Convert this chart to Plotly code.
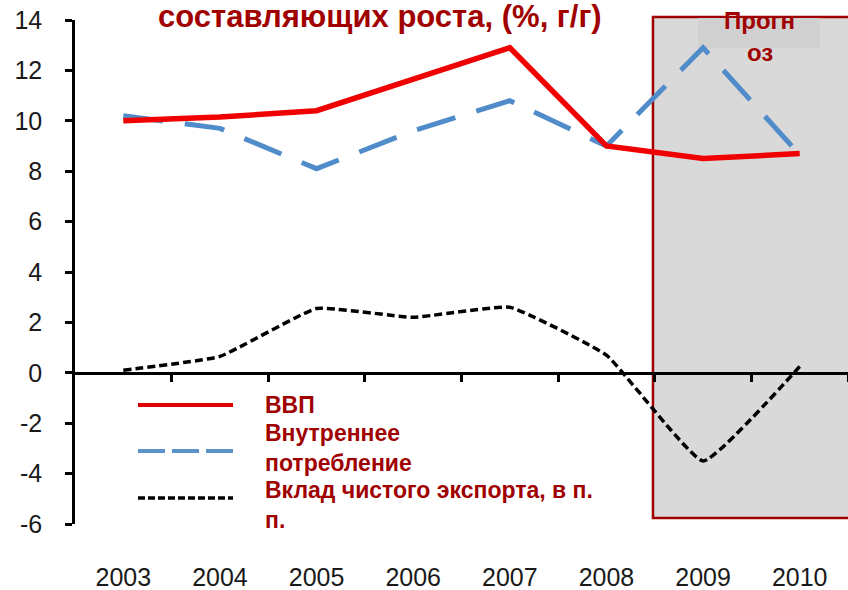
import plotly.graph_objects as go

years = [2003, 2004, 2005, 2006, 2007, 2008, 2009, 2010]
gdp = [10.0, 10.15, 10.4, 11.65, 12.9, 9.0, 8.5, 8.7]
domestic = [10.2, 9.7, 8.1, 9.6, 10.8, 9.0, 12.9, 8.65]
net_export = [0.1, 0.65, 2.55, 2.2, 2.6, 0.7, -3.5, 0.25]
y_ticks = [-6, -4, -2, 0, 2, 4, 6, 8, 10, 12, 14]
y_tick_text = ["-6", "-4", "-2", "0", "2", "4", "6", "8", "10", "12", "14"]
boundaries = [2003.5, 2004.5, 2005.5, 2006.5, 2007.5, 2008.5, 2009.5, 2010.5]

DARKRED = "#a00000"
FONT = "Arial, Liberation Sans, sans-serif"

fig = go.Figure()
fig.add_trace(go.Scatter(x=years, y=net_export, mode="lines",
                         line=dict(color="black", width=3.5, dash="8px,4px", shape="spline", smoothing=0.35),
                         showlegend=False, hoverinfo="skip"))
fig.add_trace(go.Scatter(x=years, y=domestic, mode="lines",
                         line=dict(color="#4f8cc9", width=5, dash="40px,22px"),
                         showlegend=False, hoverinfo="skip"))
fig.add_trace(go.Scatter(x=years, y=gdp, mode="lines",
                         line=dict(color="#f00000", width=5.5),
                         showlegend=False, hoverinfo="skip"))
# invisible trace to create the zero-line axis
fig.add_trace(go.Scatter(x=[years[0]], y=[0], xaxis="x2", mode="markers",
                         marker=dict(opacity=0), showlegend=False, hoverinfo="skip"))

shapes = []
# forecast box
shapes.append(dict(type="rect", xref="paper", yref="paper", x0=0.7477, x1=1.03, y0=0.0119, y1=1.006,
                   fillcolor="#d9d9d9", line=dict(color=DARKRED, width=2.5), layer="below"))
shapes.append(dict(type="rect", xref="paper", yref="paper", x0=0.806, x1=0.964, y0=0.944, y1=1.004,
                   fillcolor="#d0d0d0", line=dict(width=0), layer="below"))
# legend samples
shapes.append(dict(type="line", xref="paper", yref="paper", x0=0.0815, x1=0.2044, y0=0.236, y1=0.236,
                   line=dict(color="#e00000", width=4)))
shapes.append(dict(type="line", xref="paper", yref="paper", x0=0.0815, x1=0.2044, y0=0.145, y1=0.145,
                   line=dict(color="#5a94c8", width=4, dash="27px,7px")))
shapes.append(dict(type="line", xref="paper", yref="paper", x0=0.0815, x1=0.2044, y0=0.0516, y1=0.0516,
                   line=dict(color="black", width=3.5, dash="7px,3px")))

ann = []
ann.append(dict(text="<b>составляющих роста, (%, г/г)</b>", xref="paper", yref="paper", x=0.3946, y=(524 - 16) / 504,
                xanchor="center", yanchor="middle", showarrow=False,
                font=dict(family=FONT, size=31, color=DARKRED)))
ann.append(dict(text="<b>Прогн</b>", xref="paper", yref="paper", x=0.886, y=(524 - 20) / 504,
                xanchor="center", yanchor="middle", showarrow=False,
                font=dict(family=FONT, size=24, color=DARKRED)))
ann.append(dict(text="<b>оз</b>", xref="paper", yref="paper", x=0.886, y=(524 - 52) / 504,
                xanchor="center", yanchor="middle", showarrow=False,
                font=dict(family=FONT, size=24, color=DARKRED)))
leg_texts = [("<b>ВВП</b>", 405), ("<b>Внутреннее<br>потребление</b>", 448),
             ("<b>Вклад чистого экспорта, в п.<br>п.</b>", 505)]
for t, py in leg_texts:
    ann.append(dict(text=t, xref="paper", yref="paper", x=(263 - 75) / 773, y=(524 - py) / 504,
                    xanchor="left", yanchor="middle", align="left", showarrow=False,
                    font=dict(family=FONT, size=23, color=DARKRED)))

fig.update_layout(
    width=848, height=590,
    margin=dict(l=75, r=0, t=20, b=66),
    paper_bgcolor="white", plot_bgcolor="rgba(0,0,0,0)",
    shapes=shapes, annotations=ann,
    xaxis=dict(range=[2002.5, 2010.5], tickvals=years, ticktext=[str(y) for y in years],
               showline=False, showgrid=False, zeroline=False, ticks="", automargin=False,
               ticklabelstandoff=36,
               tickfont=dict(family=FONT, size=25, color="#1a1a1a")),
    xaxis2=dict(range=[2002.5, 2010.5], overlaying="x", anchor="free", position=0.3, side="bottom",
                showline=True, linecolor="black", linewidth=2.5, showgrid=False, zeroline=False,
                tickvals=boundaries, ticks="outside", ticklen=7, tickwidth=2.5, tickcolor="black",
                showticklabels=False, automargin=False),
    yaxis=dict(range=[-6, 14], tickvals=y_ticks, ticktext=y_tick_text, showline=True,
               linecolor="black", linewidth=2.5, automargin=False,
               ticks="outside", ticklen=7, tickwidth=2.5, tickcolor="black",
               showgrid=False, zeroline=False, ticklabelstandoff=18,
               tickfont=dict(family=FONT, size=25, color="#1a1a1a")),
)

fig.write_html("out.html", config={"displayModeBar": False},
               post_script="document.body.style.margin='0';document.body.style.overflow='hidden';")
